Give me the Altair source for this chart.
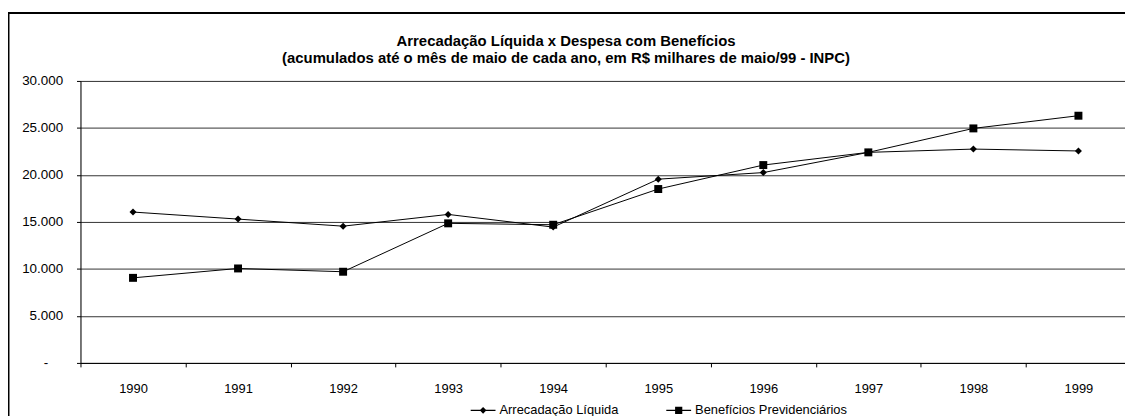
import altair as alt
import pandas as pd

years = ["1990", "1991", "1992", "1993", "1994", "1995", "1996", "1997", "1998", "1999"]
arrecadacao = [16050, 15300, 14550, 15800, 14450, 19550, 20250, 22400, 22750, 22550]
beneficios = [9050, 10050, 9700, 14850, 14700, 18500, 21050, 22400, 24950, 26300]
series_names = ["Arrecadação Líquida", "Benefícios Previdenciários"]
y_ticks = [0, 5000, 10000, 15000, 20000, 25000, 30000]
title_lines = [
    "Arrecadação Líquida x Despesa com Benefícios",
    "(acumulados até o mês de maio de cada ano, em R$ milhares de maio/99 - INPC)",
]

df = pd.DataFrame({
    "ano": years * 2,
    "valor": arrecadacao + beneficios,
    "serie": [series_names[0]] * len(years) + [series_names[1]] * len(years),
})

FONT = "Liberation Sans"
W, H = 1052, 284

x_enc = alt.X(
    "ano:O",
    title=None,
    scale=alt.Scale(type="band", paddingInner=0, paddingOuter=0, range=[0, 1058]),
    axis=alt.Axis(
        labelAngle=0, tickBand="extent", tickSize=4, tickColor="black",
        domainColor="black", labelFont=FONT, labelFontSize=13, labelColor="black",
        labelPadding=16, grid=False,
    ),
)
y_enc = alt.Y(
    "valor:Q",
    title=None,
    scale=alt.Scale(domain=[0, 30000], nice=False, zero=True),
    axis=alt.Axis(
        values=y_ticks, grid=True, gridColor="#333", gridWidth=1,
        tickSize=4, tickColor="black", domainColor="black",
        labelFont=FONT, labelFontSize=13.5, labelColor="black",
        labelPadding={"condition": {"test": "datum.value === 0", "value": 29}, "value": 14},
        labelExpr="datum.value == 0 ? '-' : replace(format(datum.value, ','), ',', '.')",
    ),
)

base = alt.Chart(df)

border = alt.Chart(alt.Data(values=[{"a": 1}])).mark_rect(
    filled=False, stroke="black", strokeWidth=2
).encode(
    x=alt.value(-72.5), x2=alt.value(1300), y=alt.value(-68.5), y2=alt.value(500)
)

lines = base.mark_line(color="black", strokeWidth=1).encode(
    x=x_enc, y=y_enc, detail="serie:N"
)

pts_a = base.transform_filter(alt.datum.serie == series_names[0]).mark_point(
    filled=True, color="black", shape="diamond", size=50, opacity=1
).encode(x=x_enc, y=y_enc)

pts_b = base.transform_filter(alt.datum.serie == series_names[1]).mark_point(
    filled=True, color="black", shape="square", size=64, opacity=1
).encode(x=x_enc, y=y_enc)

diamond_path = "M-1,-0.045H1V0.045H-1ZM0,-0.27L0.27,0L0,0.27L-0.27,0Z"
square_path = "M-1,-0.045H1V0.045H-1ZM-0.29,-0.29H0.29V0.29H-0.29Z"

legend_layer = base.transform_filter("false").mark_point(
    filled=True, color="black", strokeWidth=0, size=625, opacity=1
).encode(
    x=x_enc, y=y_enc,
    shape=alt.Shape(
        "serie:N",
        scale=alt.Scale(domain=series_names, range=[diamond_path, square_path]),
        legend=alt.Legend(
            title=None, orient="none", legendX=393, legendY=319,
            direction="horizontal", labelFont=FONT, labelFontSize=13,
            labelColor="black", symbolFillColor="black",
            symbolStrokeWidth=0, symbolSize=625, symbolOpacity=1,
            columnPadding=48, labelOffset=4,
        ),
    ),
)

chart = alt.layer(border, lines, pts_a, pts_b, legend_layer).properties(
    width=W, height=H,
    title=alt.Title(
        title_lines, font=FONT, fontSize=15, fontWeight="bold", color="black",
        anchor="middle", frame="group", dx=-37, dy=54, offset=0, lineHeight=17,
    ),
    autosize=alt.AutoSizeParams(type="none"),
    padding={"left": 73, "top": 72, "right": 0, "bottom": 52},
).configure_view(stroke=None).configure(background="white")

chart.save("out.html", embed_options={"renderer": "svg", "actions": False})
